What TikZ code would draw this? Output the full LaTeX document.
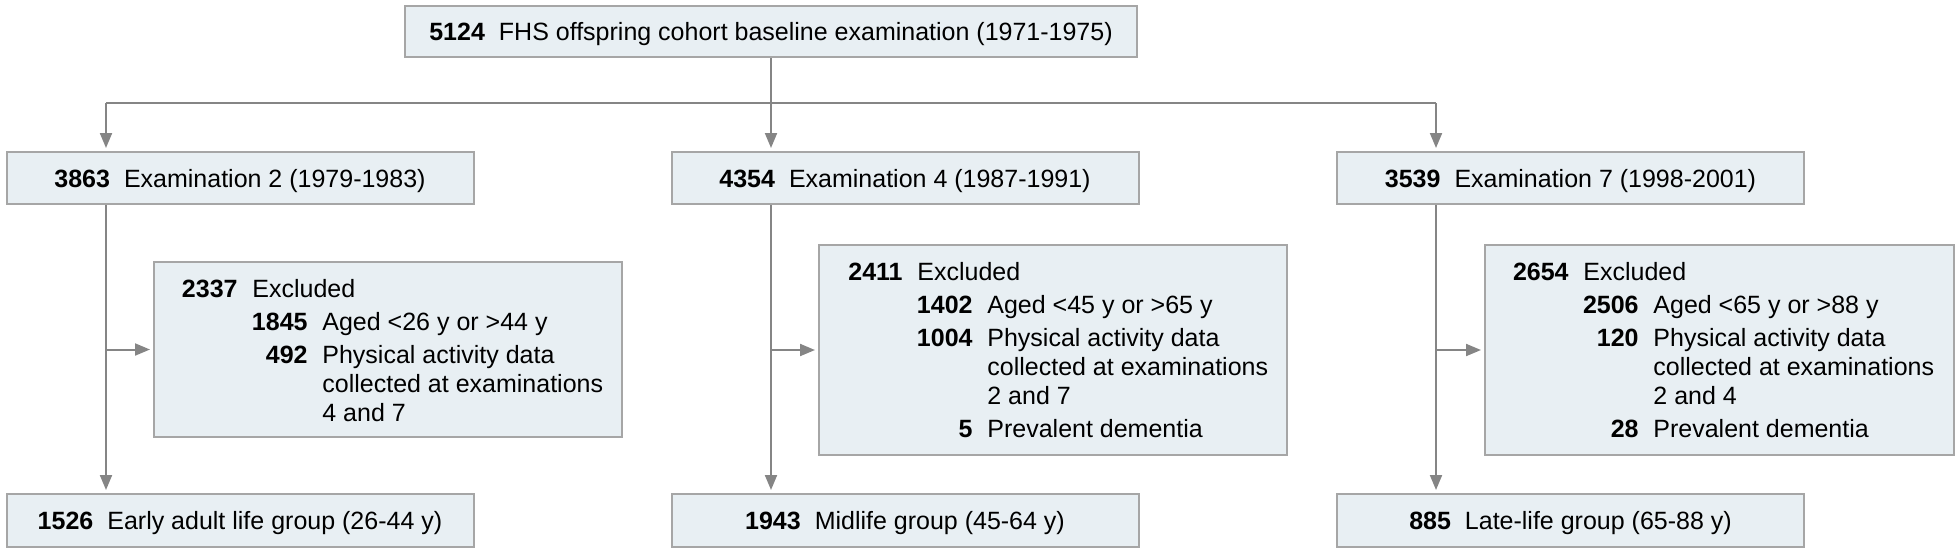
\documentclass[tikz,border=0pt]{standalone}
\usepackage{fontspec}
\setmainfont{Liberation Sans}
\usetikzlibrary{arrows.meta,calc}
\definecolor{boxfill}{HTML}{E8EFF3}
\definecolor{boxline}{HTML}{A6A6A6}
\definecolor{conn}{HTML}{858585}
\begin{document}
\begin{tikzpicture}[x=0.5pt,y=-0.5pt,
  font=\fontsize{12.5pt}{15pt}\selectfont,
  box/.style={draw=boxline, fill=boxfill, line width=1pt, inner sep=0pt, text height=9pt, text depth=0pt},
  rowbox/.style={box, minimum width=233.5pt, minimum height=26pt},
  exbox/.style={draw=boxline, fill=boxfill, line width=1pt, inner sep=0pt, minimum width=234pt},
  num/.style={anchor=base east, inner sep=0pt, font=\fontsize{12.5pt}{15pt}\selectfont\bfseries},
  lab/.style={anchor=base west, inner sep=0pt},
  cline/.style={draw=conn, line width=1pt},
  arr/.style={cline, -{Triangle[length=7.5pt,width=6pt]}, shorten >=1.5pt}]
\useasboundingbox (0,0) rectangle (1958,553);

% top box
\node[box, minimum width=366pt, minimum height=25.5pt] (top) at (771,31.5)
  {\textbf{5124}\hspace{7pt}FHS offspring cohort baseline examination (1971-1975)};

% examination boxes
\node[rowbox] (e2) at (240,178) {\textbf{3863}\hspace{7pt}Examination 2 (1979-1983)};
\node[rowbox] (e4) at (905,178) {\textbf{4354}\hspace{7pt}Examination 4 (1987-1991)};
\node[rowbox] (e7) at (1570.5,178) {\textbf{3539}\hspace{7pt}Examination 7 (1998-2001)};

% group boxes
\node[rowbox, minimum height=26.5pt] (g1) at (240,520.5) {\textbf{1526}\hspace{7pt}Early adult life group (26-44 y)};
\node[rowbox, minimum height=26.5pt] (g2) at (905,520.5) {\textbf{1943}\hspace{7pt}Midlife group (45-64 y)};
\node[rowbox, minimum height=26.5pt] (g3) at (1570.5,520.5) {\textbf{885}\hspace{7pt}Late-life group (65-88 y)};

% excluded boxes
\node[exbox, minimum height=87.5pt] (x1) at (388,349.5) {};
\node[exbox, minimum height=105pt] (x2) at (1053,350) {};
\node[exbox, minimum height=105pt, minimum width=234.5pt] (x3) at (1719.5,350) {};

% excluded texts, column 1
\node[num] (x1n0) at (238,297) {2337};
\node[lab] (x1l0) at (252,297) {Excluded};
\node[num] (x1n1) at (308,330) {1845};
\node[lab] (x1l1) at (322,330) {Aged <26 y or >44 y};
\node[num] (x1n2) at (308,363) {492};
\node[lab] (x1l2) at (322,363) {Physical activity data};
\node[lab] (x1l3) at (322,392) {collected at examinations};
\node[lab] (x1l4) at (322,421) {4 and 7};

% excluded texts, column 2
\node[num] (x2n0) at (903,280) {2411};
\node[lab] (x2l0) at (917,280) {Excluded};
\node[num] (x2n1) at (973,313) {1402};
\node[lab] (x2l1) at (987,313) {Aged <45 y or >65 y};
\node[num] (x2n2) at (973,346) {1004};
\node[lab] (x2l2) at (987,346) {Physical activity data};
\node[lab] (x2l3) at (987,375) {collected at examinations};
\node[lab] (x2l4) at (987,404) {2 and 7};
\node[num] (x2n5) at (973,437) {5};
\node[lab] (x2l5) at (987,437) {Prevalent dementia};

% excluded texts, column 3
\node[num] (x3n0) at (1569,280) {2654};
\node[lab] (x3l0) at (1583,280) {Excluded};
\node[num] (x3n1) at (1639,313) {2506};
\node[lab] (x3l1) at (1653,313) {Aged <65 y or >88 y};
\node[num] (x3n2) at (1639,346) {120};
\node[lab] (x3l2) at (1653,346) {Physical activity data};
\node[lab] (x3l3) at (1653,375) {collected at examinations};
\node[lab] (x3l4) at (1653,404) {2 and 4};
\node[num] (x3n5) at (1639,437) {28};
\node[lab] (x3l5) at (1653,437) {Prevalent dementia};

% column line positions
\coordinate (k1) at (106,103);
\coordinate (k2) at (771,103);
\coordinate (k3) at (1436,103);

% connectors from top
\draw[cline] (k1) -- (k3);
\draw[arr] (top.south) -- (top.south |- e4.north);
\draw[arr] (k1) -- (k1 |- e2.north);
\draw[arr] (k3) -- (k3 |- e7.north);

% column lines
\draw[arr] (k1 |- e2.south) -- (k1 |- g1.north);
\draw[arr] (k2 |- e4.south) -- (k2 |- g2.north);
\draw[arr] (k3 |- e7.south) -- (k3 |- g3.north);

% side arrows to excluded
\draw[arr] (k1 |- x1.west) -- (x1.west);
\draw[arr] (k2 |- x2.west) -- (x2.west);
\draw[arr] (k3 |- x3.west) -- (x3.west);
\end{tikzpicture}
\end{document}
